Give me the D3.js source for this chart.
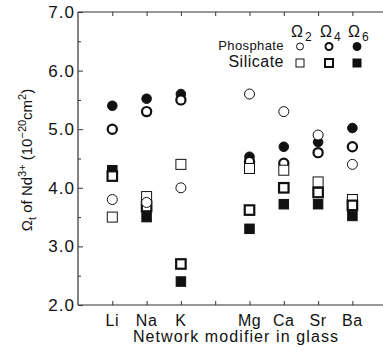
<!DOCTYPE html>
<html>
<head>
<meta charset="utf-8">
<script src="https://cdn.jsdelivr.net/npm/d3@7"></script>
<style>
  body { margin: 0; background: #fff; }
  text { font-family: "Liberation Sans", Arial, sans-serif; fill: #111; }
</style>
</head>
<body>
<svg id="chart" width="383" height="352"></svg>
<script>
(function () {
    var width = 383, height = 352;

    // x slots (blank slot separates alkali and alkaline-earth modifiers)
    var slots = ["Li", "Na", "K", " ", "Mg", "Ca", "Sr", "Ba"];
    var modifiers = ["Li", "Na", "K", "Mg", "Ca", "Sr", "Ba"];

    // phosphate glass
    var phosO2 = [3.8, 3.75, 4.0, 5.6, 5.3, 4.9, 4.4];
    var phosO4 = [5.0, 5.3, 5.5, 4.45, 4.42, 4.6, 4.7];
    var phosO6 = [5.4, 5.52, 5.6, 4.53, 4.7, 4.78, 5.02];
    // silicate glass
    var silO2 = [3.5, 3.85, 4.4, 4.33, 4.3, 4.1, 3.8];
    var silO4 = [4.2, 3.68, 2.7, 3.62, 4.0, 3.92, 3.7];
    var silO6 = [4.3, 3.5, 2.4, 3.3, 3.72, 3.72, 3.52];

    var yTicks = [2, 3, 4, 5, 6, 7];

    var svg = d3.select("#chart");

    var x = d3.scalePoint()
        .domain(slots)
        .range([78, 386.7])
        .padding(1);

    var y = d3.scaleLinear()
        .domain([2, 7])
        .range([305, 12]);

    // frame: left, bottom, top
    svg.append("line").attr("x1", 78).attr("x2", 78).attr("y1", y(7)).attr("y2", y(2))
        .attr("stroke", "#333").attr("stroke-width", 1.2);
    svg.append("line").attr("x1", 78).attr("x2", width).attr("y1", y(2)).attr("y2", y(2))
        .attr("stroke", "#333").attr("stroke-width", 1.2);
    svg.append("line").attr("x1", 78).attr("x2", width).attr("y1", y(7)).attr("y2", y(7))
        .attr("stroke", "#333").attr("stroke-width", 1.2);

    // y axis ticks (inside), minor every 0.5
    var ax = svg.append("g").attr("transform", "translate(78,0)")
        .call(d3.axisRight(y).tickValues(d3.range(2, 7.01, 0.5)).tickSize(4).tickFormat(""));
    ax.select(".domain").remove();
    ax.selectAll(".tick line").attr("stroke", "#333")
        .attr("x2", function (d) { return Number.isInteger(d) ? 5 : 3; });

    svg.append("g").selectAll("text").data(yTicks).join("text")
        .attr("x", 75).attr("y", function (d) { return y(d) + 6; })
        .attr("text-anchor", "end").attr("font-size", 17).attr("letter-spacing", 1)
        .text(function (d) { return d.toFixed(1); });

    // x axis bottom ticks (up) and top ticks (down)
    var bx = svg.append("g").attr("transform", "translate(0," + y(2) + ")")
        .call(d3.axisTop(x).tickSize(4).tickFormat(""));
    bx.select(".domain").remove();
    bx.selectAll(".tick line").attr("stroke", "#333");
    var tx = svg.append("g").attr("transform", "translate(0," + y(7) + ")")
        .call(d3.axisBottom(x).tickSize(4).tickFormat(""));
    tx.select(".domain").remove();
    tx.selectAll(".tick line").attr("stroke", "#333");

    svg.append("g").selectAll("text").data(slots).join("text")
        .attr("x", function (d) { return x(d); }).attr("y", 326)
        .attr("text-anchor", "middle").attr("font-size", 16).attr("letter-spacing", 0.5)
        .text(function (d) { return d.trim(); });

    svg.append("text").attr("x", 236).attr("y", 342)
        .attr("text-anchor", "middle").attr("font-size", 16).attr("letter-spacing", 1.1)
        .text("Network modifier in glass");

    // y title
    var yt = svg.append("text")
        .attr("transform", "translate(32,160) rotate(-90)")
        .attr("text-anchor", "middle").attr("font-size", 15);
    yt.append("tspan").text("\u03A9");
    yt.append("tspan").attr("font-size", 11).attr("dy", 4).text("t");
    yt.append("tspan").attr("dy", -4).text(" of Nd");
    yt.append("tspan").attr("font-size", 11).attr("dy", -6).text("3+");
    yt.append("tspan").attr("dy", 6).text(" (10");
    yt.append("tspan").attr("font-size", 11).attr("dy", -6).text("\u221220");
    yt.append("tspan").attr("dy", 6).text("cm");
    yt.append("tspan").attr("font-size", 11).attr("dy", -6).text("2");
    yt.append("tspan").attr("dy", 6).text(")");

    // markers
    function circles(vals, fill, sw, r) {
        svg.append("g").selectAll("circle").data(vals).join("circle")
            .attr("cx", function (d, i) { return x(modifiers[i]); })
            .attr("cy", function (d) { return y(d); })
            .attr("r", r)
            .attr("fill", fill ? "#111" : "#fff")
            .attr("stroke", "#111").attr("stroke-width", sw);
    }
    function squares(vals, fill, sw, s) {
        svg.append("g").selectAll("rect").data(vals).join("rect")
            .attr("x", function (d, i) { return x(modifiers[i]) - s / 2; })
            .attr("y", function (d) { return y(d) - s / 2; })
            .attr("width", s).attr("height", s)
            .attr("fill", fill ? "#111" : "#fff")
            .attr("stroke", "#111").attr("stroke-width", sw);
    }

    circles(phosO6, true, 1, 4.8);
    squares(silO6, true, 1, 9.5);
    circles(phosO4, false, 2.2, 4.6);
    squares(silO2, false, 1, 10);
    squares(silO4, false, 2.2, 9.5);
    circles(phosO2, false, 1, 5);

    // legend
    var lx = [300, 329, 357];
    var lg = svg.append("g");
    lx.forEach(function (cx, i) {
        var t = lg.append("text").attr("x", cx - 9).attr("y", 37).attr("font-size", 16);
        t.append("tspan").text("\u03A9");
        t.append("tspan").attr("font-size", 12).attr("dy", 4).attr("dx", 2).text(["2", "4", "6"][i]);
    });
    lg.append("text").attr("x", 284).attr("y", 50).attr("text-anchor", "end")
        .attr("font-size", 13).attr("letter-spacing", 0.4).text("Phosphate");
    lg.append("text").attr("x", 284).attr("y", 67).attr("text-anchor", "end")
        .attr("font-size", 16).attr("letter-spacing", 0.5).text("Silicate");
    lg.append("circle").attr("cx", lx[0]).attr("cy", 46.5).attr("r", 3.5)
        .attr("fill", "#fff").attr("stroke", "#111").attr("stroke-width", 1);
    lg.append("circle").attr("cx", lx[1]).attr("cy", 46.5).attr("r", 3.5)
        .attr("fill", "#fff").attr("stroke", "#111").attr("stroke-width", 2);
    lg.append("circle").attr("cx", lx[2]).attr("cy", 46.5).attr("r", 4)
        .attr("fill", "#111").attr("stroke", "#111");
    lg.append("rect").attr("x", lx[0] - 4).attr("y", 59).attr("width", 8).attr("height", 8)
        .attr("fill", "#fff").attr("stroke", "#111").attr("stroke-width", 1);
    lg.append("rect").attr("x", lx[1] - 4).attr("y", 59).attr("width", 8).attr("height", 8)
        .attr("fill", "#fff").attr("stroke", "#111").attr("stroke-width", 2);
    lg.append("rect").attr("x", lx[2] - 4).attr("y", 59).attr("width", 8).attr("height", 8)
        .attr("fill", "#111").attr("stroke", "#111");
})();
</script>
</body>
</html>
